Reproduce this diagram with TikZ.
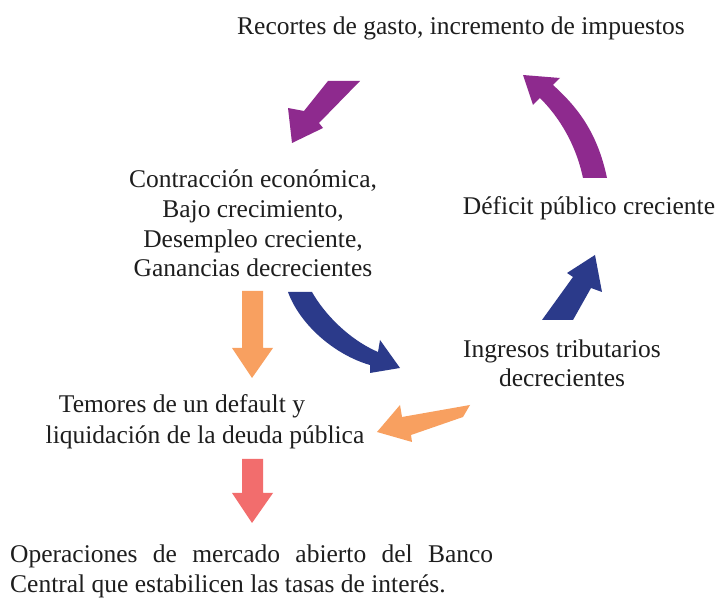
\documentclass[tikz,border=0pt]{standalone}
\usepackage{fontspec}
\setmainfont{Liberation Serif}
\definecolor{arpurple}{HTML}{8E2A8E}
\definecolor{arblue}{HTML}{2B3A8A}
\definecolor{arorange}{HTML}{F8A060}
\definecolor{arred}{HTML}{F26D6D}
\definecolor{txt}{HTML}{1E1E1E}
\tikzset{
  lbl/.style={inner sep=0pt, text=txt, font=\fontsize{25.5}{29.7}\selectfont, align=center, anchor=base},
  blockarrow/.style={draw=none}
}
\begin{document}
\begin{tikzpicture}[x=1pt,y=-1pt]
\useasboundingbox (0,0) rectangle (716,601);
\fill[white] (0,0) rectangle (716,601);

% texts (base anchor = baseline of the last line)
\node[lbl] (recortes) at (461,35) {Recortes de gasto, incremento de impuestos};
\node[lbl] (contraccion) at (253,277) {Contracción económica,\\Bajo crecimiento,\\Desempleo creciente,\\Ganancias decrecientes};
\node[lbl] (deficit) at (589,215) {Déficit público creciente};
\node[lbl] (ingresos) at (562,387) {Ingresos tributarios\\decrecientes};
\node[lbl] (temores) at (182,413) {Temores de un default y};
\node[lbl] (liquidacion) at (205,444) {liquidación de la deuda pública};
\node[lbl, anchor=base west, text width=483pt, align=justify] (operaciones) at (10,563)
  {Operaciones de mercado abierto del Banco\linebreak Central que estabilicen las tasas de interés.};

% block arrows
\fill[arpurple] (360,81) -- (328,81) -- (304,111) -- (288,108) -- (292,143) -- (323,128) -- (319,123) -- cycle;
\fill[arpurple] (583,178) -- (607,178) .. controls (597,130) and (575,105) .. (553,85) -- (560,78) -- (523,75) -- (533,105) -- (540,98) .. controls (560,118) and (576,145) .. (583,178) -- cycle;
\fill[arblue] (542,320) -- (573,320) -- (591,288) -- (602,292) -- (595,255) -- (567,273) -- (573,277) -- cycle;
\fill[arblue] (288,292) -- (312,292) .. controls (325,315) and (350,340) .. (378,352) -- (380,340) -- (400,368) -- (370,373) -- (370,365) .. controls (335,355) and (300,325) .. (288,292) -- cycle;
\fill[arorange] (242,291) -- (263,291) -- (263,348) -- (273,348) -- (252,378) -- (232,348) -- (242,348) -- cycle;
\fill[arorange] (470,405) -- (463,417) -- (411,435) -- (412,442) -- (377,432) -- (400,405) -- (402,417) -- cycle;
\fill[arred] (242,459) -- (263,459) -- (263,493) -- (273,493) -- (252,523) -- (232,493) -- (242,493) -- cycle;
\end{tikzpicture}
\end{document}
